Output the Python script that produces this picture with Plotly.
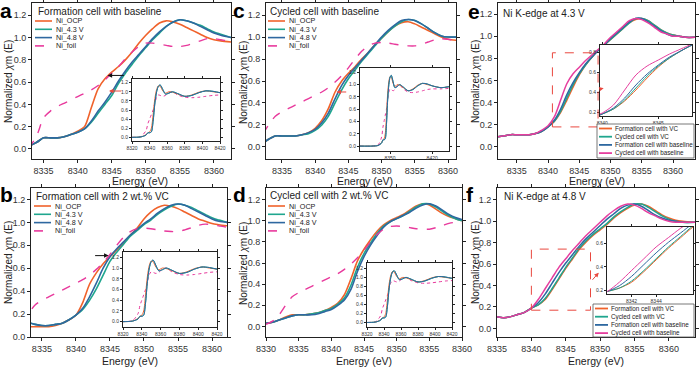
import plotly.graph_objects as go

W, H = 699, 369
FONT = "Liberation Sans, Arial, sans-serif"
ORANGE = "#F0622B"
TEAL = "#1FA68E"
BLUE = "#2E68A0"
MAGENTA = "#E63E9E"
PINK = "#E8399C"
RED = "#E9483F"

# ---------------- data ----------------
SERIES_ABCD = ["Ni_OCP", "Ni_4.3 V", "Ni_4.8 V", "Ni_foil"]
SERIES_EF = ["Formation cell with VC", "Cycled cell with VC",
             "Formation cell with baseline", "Cycled cell with baseline"]
PANEL_TITLES = ["Formation cell with baseline", "Formation cell with 2 wt.% VC",
                "Cycled cell with baseline", "Cycled cell with 2 wt.% VC",
                "Ni K-edge at 4.3 V", "Ni K-edge at 4.8 V"]

FOIL_X = [8330, 8331, 8332, 8333, 8334, 8335, 8336, 8337, 8338, 8339, 8340, 8341, 8342,
          8343, 8344, 8345, 8346, 8347, 8348, 8349, 8350, 8351, 8352, 8353, 8354, 8355,
          8356, 8357, 8358, 8359, 8360, 8361, 8362, 8363, 8364]
FOIL_Y = [0.02, 0.05, 0.11, 0.2, 0.28, 0.32, 0.35, 0.38, 0.41, 0.44, 0.47, 0.5, 0.54,
          0.59, 0.65, 0.72, 0.8, 0.87, 0.92, 0.945, 0.95, 0.945, 0.935, 0.925, 0.92, 0.92,
          0.935, 0.955, 0.975, 0.985, 0.98, 0.97, 0.96, 0.955, 0.95]
FOIL_A_Y = [0.0, 0.0, 0.01, 0.03, 0.12, 0.28, 0.34, 0.38, 0.41, 0.44, 0.47, 0.5, 0.53,
            0.57, 0.62, 0.68, 0.74, 0.81, 0.87, 0.92, 0.95, 0.95, 0.94, 0.93, 0.92, 0.92,
            0.93, 0.95, 0.97, 0.99, 0.99, 0.98, 0.97, 0.96, 0.96]

A_X = [8333, 8334, 8335, 8336, 8337, 8338, 8339, 8340, 8341, 8342, 8343, 8344, 8345, 8346,
       8347, 8348, 8349, 8350, 8351, 8352, 8353, 8354, 8355, 8356, 8357, 8358, 8359, 8360,
       8361, 8362.5]
A_OCP = [0.03, 0.06, 0.1, 0.1, 0.1, 0.11, 0.13, 0.16, 0.2, 0.37, 0.54, 0.63, 0.69, 0.74,
         0.8, 0.87, 0.95, 1.02, 1.08, 1.13, 1.15, 1.14, 1.12, 1.09, 1.06, 1.03, 1.0, 0.98,
         0.97, 0.96]
A_43 = [0.03, 0.06, 0.1, 0.1, 0.1, 0.11, 0.13, 0.15, 0.18, 0.24, 0.32, 0.4, 0.48, 0.59,
        0.68, 0.76, 0.84, 0.91, 0.98, 1.04, 1.1, 1.14, 1.16, 1.15, 1.13, 1.11, 1.08, 1.05,
        1.03, 1.0]
A_48 = [0.03, 0.06, 0.1, 0.1, 0.1, 0.11, 0.13, 0.15, 0.18, 0.25, 0.34, 0.42, 0.51, 0.61,
        0.7, 0.78, 0.85, 0.92, 0.99, 1.05, 1.1, 1.14, 1.16, 1.15, 1.13, 1.1, 1.07, 1.04,
        1.02, 1.0]

B_X = [8333.4, 8334, 8335, 8336, 8337, 8338, 8339, 8340, 8341, 8342, 8343, 8344, 8345, 8346,
       8347, 8348, 8349, 8350, 8351, 8352, 8353, 8354, 8355, 8356, 8357, 8358, 8359, 8360,
       8361, 8362.2]
B_OCP = [0.09, 0.09, 0.09, 0.09, 0.1, 0.12, 0.15, 0.19, 0.3, 0.46, 0.56, 0.64, 0.7, 0.76,
         0.82, 0.89, 0.95, 1.03, 1.09, 1.13, 1.15, 1.14, 1.12, 1.09, 1.06, 1.03, 1.01, 0.99,
         0.98, 0.97]
B_43 = [0.12, 0.11, 0.1, 0.1, 0.11, 0.12, 0.15, 0.19, 0.24, 0.32, 0.42, 0.54, 0.66, 0.74,
        0.81, 0.88, 0.93, 0.98, 1.02, 1.07, 1.11, 1.14, 1.16, 1.15, 1.13, 1.1, 1.07, 1.04,
        1.02, 1.0]
B_48 = [0.12, 0.11, 0.1, 0.1, 0.11, 0.12, 0.15, 0.19, 0.25, 0.35, 0.47, 0.6, 0.7, 0.77,
        0.83, 0.89, 0.94, 0.99, 1.03, 1.08, 1.12, 1.15, 1.16, 1.15, 1.12, 1.09, 1.06, 1.03,
        1.01, 1.0]

C_X = [8332.5, 8333, 8334, 8335, 8336, 8337, 8338, 8339, 8340, 8341, 8342, 8343, 8344, 8345,
       8346, 8347, 8348, 8349, 8350, 8351, 8352, 8353, 8354, 8355, 8356, 8357, 8358, 8359,
       8360, 8361.5]
C_OCP = [0.05, 0.07, 0.1, 0.1, 0.1, 0.1, 0.11, 0.13, 0.17, 0.24, 0.35, 0.5, 0.6, 0.67,
         0.73, 0.8, 0.86, 0.93, 0.99, 1.05, 1.1, 1.13, 1.14, 1.12, 1.09, 1.06, 1.03, 1.0,
         0.98, 0.97]
C_43 = [0.05, 0.07, 0.1, 0.1, 0.1, 0.1, 0.11, 0.12, 0.15, 0.2, 0.28, 0.4, 0.52, 0.62, 0.7,
        0.78, 0.85, 0.92, 0.99, 1.05, 1.1, 1.14, 1.16, 1.15, 1.12, 1.08, 1.04, 1.01, 1.0, 1.0]
C_48 = [0.05, 0.07, 0.1, 0.1, 0.1, 0.1, 0.11, 0.13, 0.16, 0.22, 0.31, 0.44, 0.56, 0.65,
        0.72, 0.79, 0.86, 0.93, 1.0, 1.06, 1.11, 1.15, 1.16, 1.15, 1.12, 1.08, 1.04, 1.01,
        1.0, 1.0]

D_X = [8330, 8331, 8332, 8333, 8334, 8335, 8336, 8337, 8338, 8339, 8340, 8341, 8342, 8343,
       8344, 8345, 8346, 8347, 8348, 8349, 8350, 8351, 8352, 8353, 8354, 8355, 8356, 8357,
       8358, 8359, 8360]
D_OCP = [0.03, 0.04, 0.06, 0.09, 0.11, 0.11, 0.11, 0.12, 0.13, 0.15, 0.18, 0.22, 0.3, 0.45,
         0.62, 0.73, 0.82, 0.9, 0.96, 1.0, 1.03, 1.06, 1.1, 1.14, 1.16, 1.15, 1.11, 1.07,
         1.04, 1.02, 1.0]
D_43 = [0.03, 0.04, 0.06, 0.08, 0.1, 0.11, 0.11, 0.12, 0.13, 0.15, 0.17, 0.21, 0.27, 0.39,
        0.56, 0.69, 0.79, 0.88, 0.95, 0.99, 1.02, 1.05, 1.09, 1.13, 1.16, 1.16, 1.13, 1.09,
        1.05, 1.02, 1.0]
D_48 = [0.03, 0.04, 0.06, 0.08, 0.1, 0.11, 0.11, 0.11, 0.12, 0.14, 0.16, 0.2, 0.25, 0.35,
        0.52, 0.66, 0.77, 0.86, 0.94, 0.99, 1.02, 1.05, 1.08, 1.12, 1.15, 1.16, 1.14, 1.1,
        1.06, 1.03, 1.01]

E_X = [8332, 8333, 8334, 8335, 8336, 8337, 8338, 8339, 8340, 8341, 8342, 8343, 8344, 8345,
       8346, 8347, 8348, 8349, 8350, 8351, 8352, 8353, 8354, 8355, 8356, 8357, 8358, 8359,
       8360, 8361, 8362, 8363.5]
E_FVC = [0.09, 0.1, 0.11, 0.11, 0.11, 0.11, 0.12, 0.14, 0.18, 0.23, 0.31, 0.42, 0.54, 0.65,
         0.74, 0.81, 0.87, 0.92, 0.97, 1.02, 1.07, 1.12, 1.15, 1.16, 1.14, 1.1, 1.06, 1.03,
         1.01, 1.0, 0.99, 0.99]
E_CVC = [0.09, 0.1, 0.11, 0.11, 0.11, 0.11, 0.12, 0.14, 0.18, 0.23, 0.32, 0.44, 0.56, 0.66,
         0.74, 0.81, 0.87, 0.92, 0.97, 1.02, 1.07, 1.12, 1.16, 1.16, 1.14, 1.1, 1.06, 1.03,
         1.01, 1.0, 0.99, 0.99]
E_FB = [0.09, 0.1, 0.11, 0.11, 0.11, 0.11, 0.12, 0.14, 0.18, 0.24, 0.34, 0.47, 0.58, 0.67,
        0.75, 0.81, 0.87, 0.92, 0.98, 1.03, 1.08, 1.13, 1.16, 1.16, 1.13, 1.09, 1.05, 1.02,
        1.0, 1.0, 0.99, 0.99]
E_CB = [0.09, 0.1, 0.11, 0.11, 0.11, 0.11, 0.12, 0.15, 0.19, 0.27, 0.42, 0.57, 0.66, 0.72,
        0.78, 0.83, 0.88, 0.93, 0.99, 1.04, 1.09, 1.14, 1.16, 1.15, 1.12, 1.08, 1.04, 1.02,
        1.0, 1.0, 0.99, 0.99]

F_X = [8335, 8336, 8337, 8338, 8339, 8340, 8341, 8342, 8343, 8344, 8345, 8346, 8347, 8348,
       8349, 8350, 8351, 8352, 8353, 8354, 8355, 8356, 8357, 8358, 8359, 8360, 8361, 8362,
       8363.8]
F_FVC = [0.11, 0.1, 0.11, 0.13, 0.15, 0.19, 0.22, 0.27, 0.36, 0.46, 0.56, 0.65, 0.74, 0.81,
         0.87, 0.92, 0.97, 1.03, 1.08, 1.12, 1.15, 1.16, 1.14, 1.1, 1.06, 1.03, 1.01, 1.0,
         0.99]
F_CVC = [0.11, 0.1, 0.11, 0.13, 0.15, 0.19, 0.22, 0.28, 0.37, 0.47, 0.57, 0.66, 0.75, 0.82,
         0.88, 0.93, 0.98, 1.04, 1.09, 1.13, 1.16, 1.16, 1.13, 1.09, 1.05, 1.02, 1.0, 0.99,
         0.99]
F_FB = [0.11, 0.1, 0.11, 0.13, 0.15, 0.19, 0.24, 0.32, 0.42, 0.52, 0.61, 0.69, 0.77, 0.84,
        0.9, 0.96, 1.02, 1.07, 1.12, 1.15, 1.16, 1.14, 1.1, 1.06, 1.03, 1.01, 1.0, 0.99, 0.99]
F_CB = [0.11, 0.1, 0.11, 0.13, 0.15, 0.19, 0.27, 0.37, 0.47, 0.57, 0.65, 0.73, 0.8, 0.87,
        0.93, 0.99, 1.05, 1.1, 1.14, 1.16, 1.15, 1.12, 1.08, 1.05, 1.02, 1.0, 0.99, 0.99,
        0.99]

INSET_X = [8300, 8320, 8330, 8336, 8338, 8340, 8342, 8344, 8346, 8348, 8350, 8352, 8355,
           8358, 8362, 8366, 8372, 8380, 8388, 8396, 8404, 8412, 8420, 8435, 8450]
INSET_CHG = [0.0, 0.0, 0.01, 0.05, 0.1, 0.1, 0.12, 0.35, 0.75, 1.0, 1.12, 1.15, 1.05, 0.95,
             0.97, 1.0, 0.96, 0.9, 0.92, 0.98, 1.02, 1.01, 0.98, 0.95, 0.97]
INSET_OCP = [0.0, 0.0, 0.01, 0.06, 0.1, 0.12, 0.2, 0.5, 0.85, 1.05, 1.13, 1.12, 1.02, 0.97,
             1.0, 0.99, 0.95, 0.9, 0.93, 0.99, 1.02, 1.0, 0.98, 0.95, 0.97]
INSET_FOIL = [0.0, 0.0, 0.02, 0.15, 0.3, 0.4, 0.5, 0.6, 0.75, 0.88, 0.93, 0.92, 0.9, 0.92,
              0.98, 1.0, 0.93, 0.88, 0.87, 0.88, 0.9, 0.92, 0.93, 0.93, 0.94]

Y_TICKS = [0.0, 0.2, 0.4, 0.6, 0.8, 1.0, 1.2]
X_TICKS = [8335, 8340, 8345, 8350, 8355, 8360]
X_TICKS_D = [8330, 8335, 8340, 8345, 8350, 8355, 8360]
INSET_XTICKS = [8320, 8340, 8360, 8380, 8400, 8420]
INSET_XTICKS_C = [8350, 8420]

# ---------------- figure ----------------
fig = go.Figure()
layout = {}
annotations = []
shapes = []


def dx(x0, x1):
    return [x0 / W, x1 / W]


def dy(y0, y1):
    return [1 - y1 / H, 1 - y0 / H]


def axes(i, xpx, ypx, xr, yr, xt, yt, small=False, ytf=".1f"):
    xs = "" if i == 1 else str(i)
    fs = 5 if small else 9
    tl = 2 if small else 3
    common = dict(showline=True, linecolor="#222", linewidth=1, mirror="ticks",
                  ticks="outside", ticklen=tl, tickwidth=1, tickcolor="#222",
                  showgrid=False, zeroline=False, automargin=False,
                  tickfont=dict(size=fs, color="#333", family=FONT))
    layout["xaxis" + xs] = dict(domain=dx(*xpx), range=xr, anchor="y" + xs,
                                tickvals=xt, **common)
    layout["yaxis" + xs] = dict(domain=dy(*ypx), range=yr, anchor="x" + xs,
                                tickvals=yt, tickformat=ytf, **common)
    if small:
        shapes.append(dict(type="rect", xref="x%s domain" % xs, yref="y%s domain" % xs,
                           x0=0, x1=1, y0=0, y1=1, fillcolor="white",
                           line=dict(width=0), layer="below"))


def line(i, x, y, color, width=1.6, dash="solid", name=None):
    xs = "" if i == 1 else str(i)
    fig.add_trace(go.Scatter(x=x, y=y, mode="lines", name=name, showlegend=False,
                             xaxis="x" + xs, yaxis="y" + xs,
                             line=dict(color=color, width=width, dash=dash,
                                       shape="spline", smoothing=0.8)))


def ann(text, x, y, size=9, xa="left", ya="middle", color="#222", angle=0):
    annotations.append(dict(text=text, x=x / W, y=1 - y / H, xref="paper", yref="paper",
                            xanchor=xa, yanchor=ya, showarrow=False, textangle=angle,
                            font=dict(size=size, color=color, family=FONT)))


BOT = 337
# main axes: a=1, b=2, c=3, d=4, e=5, f=6
axes(1, (32, 231), (3, 159), [8333.3, 8362.5], [-0.09, 1.31], X_TICKS, Y_TICKS)
axes(2, (31, 227), (188, BOT), [8333.4, 8362.2], [0.0, 1.3], X_TICKS, Y_TICKS)
axes(3, (266, 456), (3, 159), [8332.6, 8361.2], [-0.11, 1.31], X_TICKS, Y_TICKS)
axes(4, (266, 462), (188, BOT), [8330, 8360], [-0.1, 1.31], X_TICKS_D, Y_TICKS)
axes(5, (498, 695), (3, 159), [8332, 8363.5], [-0.11, 1.3], X_TICKS, Y_TICKS)
axes(6, (497, 695), (188, BOT), [8335, 8363.8], [-0.08, 1.31], X_TICKS, Y_TICKS)
# insets
axes(7, (132, 220), (79, 141), [8320, 8420], [-0.08, 1.28], INSET_XTICKS, Y_TICKS, True)
axes(8, (123, 217), (252, 327), [8320, 8420], [-0.1, 1.3], INSET_XTICKS, Y_TICKS, True)
axes(9, (360, 449), (68, 151), [8300, 8448], [-0.08, 1.27], INSET_XTICKS_C, Y_TICKS, True)
axes(10, (367, 452), (263, 327), [8320, 8420], [-0.1, 1.32], INSET_XTICKS, Y_TICKS, True)
axes(11, (600, 692), (45, 116), [8339.8, 8348], [0.16, 0.87], [8340, 8345],
     [0.2, 0.4, 0.6, 0.8], True)
axes(12, (607, 693), (227, 294), [8340, 8347], [0.17, 0.74], [8342, 8344],
     [0.2, 0.4, 0.6], True)

# main curves
FOILS = {1: FOIL_A_Y, 2: FOIL_Y, 3: FOIL_Y, 4: FOIL_Y}
for i, (X, o, t, b) in {1: (A_X, A_OCP, A_43, A_48), 2: (B_X, B_OCP, B_43, B_48),
                         3: (C_X, C_OCP, C_43, C_48), 4: (D_X, D_OCP, D_43, D_48)}.items():
    line(i, X, o, ORANGE, name=SERIES_ABCD[0])
    line(i, X, t, TEAL, name=SERIES_ABCD[1])
    line(i, X, b, BLUE, name=SERIES_ABCD[2])
    line(i, FOIL_X, FOILS[i], PINK, width=1.4, dash="dash", name=SERIES_ABCD[3])

for i, (X, fv, cv, fb, cb) in {5: (E_X, E_FVC, E_CVC, E_FB, E_CB),
                               6: (F_X, F_FVC, F_CVC, F_FB, F_CB)}.items():
    for j in (i, i + 6):
        w = 1.5 if j == i else 1.0
        line(j, X, fv, ORANGE, width=w, name=SERIES_EF[0])
        line(j, X, cv, TEAL, width=w, name=SERIES_EF[1])
        line(j, X, fb, BLUE, width=w, name=SERIES_EF[2])
        line(j, X, cb, MAGENTA, width=w, name=SERIES_EF[3])

for j in (7, 8, 9, 10):
    line(j, INSET_X, INSET_FOIL, PINK, width=1.0, dash="dot")
    line(j, INSET_X, INSET_OCP, ORANGE, width=1.0)
    line(j, INSET_X, INSET_CHG, TEAL, width=1.0)
    line(j, INSET_X, INSET_CHG, BLUE, width=1.0)

# dashed zoom boxes
shapes.append(dict(type="rect", xref="x5", yref="y5", x0=8340.7, x1=8348, y0=0.18, y1=0.85,
                   line=dict(color=RED, width=1, dash="dash")))
shapes.append(dict(type="rect", xref="x6", yref="y6", x0=8340, x1=8348.6, y0=0.17, y1=0.74,
                   line=dict(color=RED, width=1, dash="dash")))


# arrows
def arrow(i, x0, y0, x1, y1, color):
    xs = "" if i == 1 else str(i)
    annotations.append(dict(x=x1, y=y1, ax=x0, ay=y0, xref="x" + xs, yref="y" + xs,
                            axref="x" + xs, ayref="y" + xs, text="", showarrow=True,
                            arrowhead=2, arrowsize=0.9, arrowwidth=1, arrowcolor=color))


arrow(1, 8347.0, 0.66, 8344.4, 0.66, "#111")
arrow(1, 8346.6, 0.52, 8344.6, 0.52, RED)
arrow(2, 8342.6, 0.71, 8344.8, 0.71, "#111")
arrow(3, 8344.9, 0.5, 8343.2, 0.5, RED)
arrow(5, 8348.1, 0.52, 8348.9, 0.53, RED)
arrow(6, 8348.7, 0.44, 8349.8, 0.52, RED)

# panel letters
for t, x, y in [("a", 6, -3), ("b", 6, 181), ("c", 239, -3), ("d", 239, 181),
                ("e", 474, -2), ("f", 470, 181)]:
    ann("<b>%s</b>" % t, x, y, size=21, xa="center", ya="top", color="#000")

# panel titles
for t, x, y in [(PANEL_TITLES[0], 36, 11), (PANEL_TITLES[1], 34, 196),
                (PANEL_TITLES[2], 268, 11), (PANEL_TITLES[3], 268, 195),
                (PANEL_TITLES[4], 501, 14), (PANEL_TITLES[5], 502, 196)]:
    ann(t, x, y, size=10)

# axis titles
for x, y in [(8, 82), (8, 263), (243, 82), (243, 263), (475, 82), (475, 263)]:
    ann("Normalized <i>χ</i>m (E)", x, y, size=10, xa="center", angle=-90)
for x, y in [(140, 181), (130, 361), (365, 181), (364, 361), (597, 181), (596, 361)]:
    ann("Energy (eV)", x, y, size=10.5, xa="center")

# legends for a-d
cols = [ORANGE, TEAL, BLUE, PINK]
dashes = ["solid", "solid", "solid", "dash"]
for (lx, ty) in [(35, 3), (34, 188), (268, 3), (268, 188)]:
    for k in range(4):
        yy = ty + 18 + 8.3 * k
        shapes.append(dict(type="line", xref="paper", yref="paper", x0=lx / W,
                           x1=(lx + 17) / W, y0=1 - yy / H, y1=1 - yy / H,
                           line=dict(color=cols[k], width=1.6, dash=dashes[k])))
        ann(SERIES_ABCD[k], lx + 19, yy, size=7.2)

# legends for e-f
cols2 = [ORANGE, TEAL, BLUE, MAGENTA]
for (bx0, by0, bx1, by1) in [(597, 124, 694, 158), (593, 304, 694, BOT)]:
    shapes.append(dict(type="rect", xref="paper", yref="paper", x0=bx0 / W, x1=bx1 / W,
                       y0=1 - by1 / H, y1=1 - by0 / H, fillcolor="white",
                       line=dict(color="#555", width=0.8)))
    for k in range(4):
        yy = by0 + 4.5 + 8.2 * k
        shapes.append(dict(type="line", xref="paper", yref="paper", x0=(bx0 + 2) / W,
                           x1=(bx0 + 15) / W, y0=1 - yy / H, y1=1 - yy / H,
                           line=dict(color=cols2[k], width=1.8)))
        ann(SERIES_EF[k], bx0 + 16, yy, size=6.3)

fig.update_layout(**layout)
fig.update_layout(width=W, height=H, autosize=False, margin=dict(l=0, r=0, t=0, b=0),
                  paper_bgcolor="white", plot_bgcolor="white", showlegend=False,
                  font=dict(family=FONT), annotations=annotations, shapes=shapes)
fig.write_html("out.html", config={"displayModeBar": False, "staticPlot": True},
               post_script="document.body.style.margin='0';document.body.style.padding='0';")

# make sure the page itself has no default body margin
with open("out.html", "r", encoding="utf-8") as fh:
    html = fh.read()
html = html.replace("<head>", "<head><style>html,body{margin:0;padding:0;}</style>", 1)
with open("out.html", "w", encoding="utf-8") as fh:
    fh.write(html)
